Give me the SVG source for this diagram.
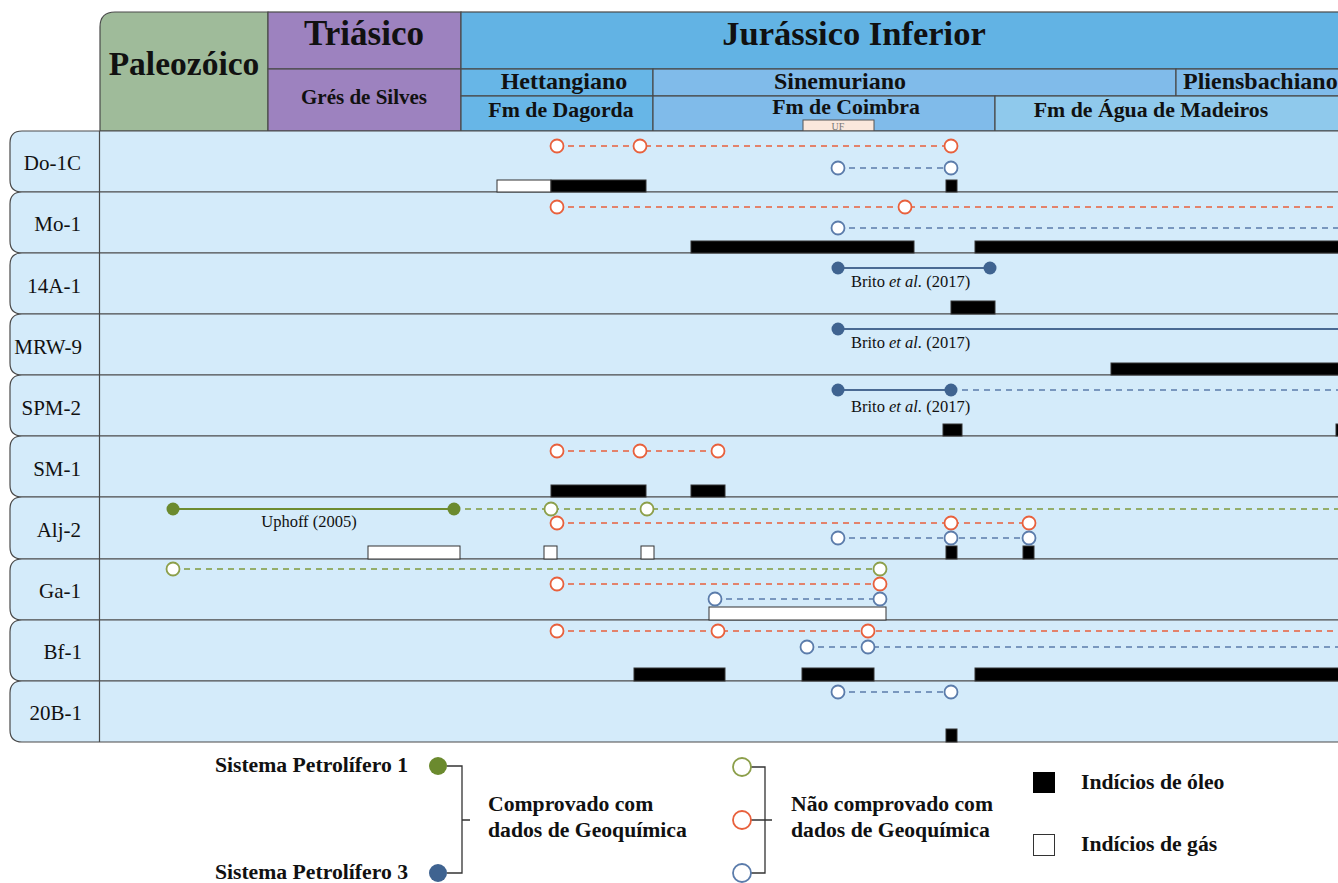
<svg xmlns="http://www.w3.org/2000/svg" width="1338" height="883" viewBox="0 0 1338 883">
<defs>
<style>
text{font-family:"Liberation Serif","Times New Roman",serif;fill:#111}
.hb{font-weight:bold}
.cell{stroke:#4a4a4a;stroke-width:1.2}
.row{fill:#d4ebfa;stroke:#4a4a4a;stroke-width:1.2}
.lbl{font-size:21px;text-anchor:end}
.ref{font-size:16.5px}
.oil{fill:#000;stroke:#333;stroke-width:1}
.gas{fill:#fff;stroke:#333;stroke-width:1}
.do{stroke:#e8603c;stroke-width:1.5;stroke-dasharray:6,5;fill:none}
.db{stroke:#5b7cab;stroke-width:1.5;stroke-dasharray:6,5;fill:none}
.dg{stroke:#7f9a3c;stroke-width:1.5;stroke-dasharray:6,5;fill:none}
.sb{stroke:#4a6a93;stroke-width:2;fill:none}
.sg{stroke:#6e8c30;stroke-width:2;fill:none}
.oo{fill:#fff;stroke:#e8603c;stroke-width:1.8}
.ob{fill:#fff;stroke:#5b7cab;stroke-width:1.8}
.og{fill:#fff;stroke:#8c9f4a;stroke-width:1.8}
.fb{fill:#3f6390}
.fg{fill:#6b8a2e}
.br{stroke:#333;stroke-width:1.3;fill:none}
.leg{font-size:21.7px;font-weight:bold}
</style>
</defs>

<g id="header">
<g id="paleozoico">
<path class="cell" d="M268 12 H115 Q100 12 100 27 V131 H268 Z" fill="#9fbb9a"/>
<text class="hb" x="184" y="75" font-size="33.5" text-anchor="middle">Paleozóico</text>
</g>
<g id="triasico">
<rect class="cell" x="268" y="12" width="193" height="57" fill="#9d82bf"/>
<rect class="cell" x="268" y="69" width="193" height="62" fill="#9d82bf"/>
<text class="hb" x="364" y="45" font-size="35" text-anchor="middle">Triásico</text>
<text class="hb" x="364" y="104" font-size="21" text-anchor="middle">Grés de Silves</text>
</g>
<g id="jurassico">
<rect class="cell" x="461" y="12" width="880" height="57" fill="#62b3e4"/>
<text class="hb" x="854" y="45" font-size="34.5" text-anchor="middle">Jurássico Inferior</text>
</g>
<g id="hettangiano">
<rect class="cell" x="461" y="69" width="192" height="27" fill="#67b6e7"/>
<text class="hb" x="564" y="89" font-size="24" text-anchor="middle">Hettangiano</text>
</g>
<g id="sinemuriano">
<rect class="cell" x="653" y="69" width="523" height="27" fill="#80bbea"/>
<text class="hb" x="840" y="89" font-size="24" text-anchor="middle">Sinemuriano</text>
</g>
<g id="pliensbachiano">
<rect class="cell" x="1176" y="69" width="165" height="27" fill="#80bbea"/>
<text class="hb" x="1183" y="89" font-size="24">Pliensbachiano</text>
</g>
<g id="dagorda">
<rect class="cell" x="461" y="96" width="192" height="35" fill="#67b6e7"/>
<text class="hb" x="561" y="117" font-size="21.8" text-anchor="middle">Fm de Dagorda</text>
</g>
<g id="coimbra">
<rect class="cell" x="653" y="96" width="342" height="35" fill="#80bbea"/>
<text class="hb" x="846" y="114" font-size="21.8" text-anchor="middle">Fm de Coimbra</text>
<rect x="803" y="120" width="71" height="11" fill="#fbe8dc" stroke="#555" stroke-width="1"/>
<text x="838" y="130" font-size="10" text-anchor="middle" style="fill:#777">UF</text>
</g>
<g id="agua">
<rect class="cell" x="995" y="96" width="346" height="35" fill="#8fc9ec"/>
<text class="hb" x="1151" y="117" font-size="21.8" text-anchor="middle">Fm de Água de Madeiros</text>
</g>
</g>

<g id="rows">
<g id="row-Do-1C"><path class="row" d="M1341 131 H22 Q10 131 10 143 V180 Q10 192 22 192 H1341 Z"/><text class="lbl" x="81" y="170">Do-1C</text></g>
<g id="row-Mo-1"><path class="row" d="M1341 192 H22 Q10 192 10 204 V241 Q10 253 22 253 H1341 Z"/><text class="lbl" x="81" y="231">Mo-1</text></g>
<g id="row-14A-1"><path class="row" d="M1341 253 H22 Q10 253 10 265 V302 Q10 314 22 314 H1341 Z"/><text class="lbl" x="81" y="293">14A-1</text></g>
<g id="row-MRW-9"><path class="row" d="M1341 314 H22 Q10 314 10 326 V363 Q10 375 22 375 H1341 Z"/><text class="lbl" x="82" y="354">MRW-9</text></g>
<g id="row-SPM-2"><path class="row" d="M1341 375 H22 Q10 375 10 387 V424 Q10 436 22 436 H1341 Z"/><text class="lbl" x="81" y="415">SPM-2</text></g>
<g id="row-SM-1"><path class="row" d="M1341 436 H22 Q10 436 10 448 V485 Q10 497 22 497 H1341 Z"/><text class="lbl" x="81" y="476">SM-1</text></g>
<g id="row-Alj-2"><path class="row" d="M1341 497 H22 Q10 497 10 509 V547 Q10 559 22 559 H1341 Z"/><text class="lbl" x="81" y="537">Alj-2</text></g>
<g id="row-Ga-1"><path class="row" d="M1341 559 H22 Q10 559 10 571 V608 Q10 620 22 620 H1341 Z"/><text class="lbl" x="81" y="598">Ga-1</text></g>
<g id="row-Bf-1"><path class="row" d="M1341 620 H22 Q10 620 10 632 V669 Q10 681 22 681 H1341 Z"/><text class="lbl" x="82" y="659">Bf-1</text></g>
<g id="row-20B-1"><path class="row" d="M1341 681 H22 Q10 681 10 693 V730 Q10 742 22 742 H1341 Z"/><text class="lbl" x="82" y="720">20B-1</text></g>
<line x1="99.5" y1="131" x2="99.5" y2="742" stroke="#4a4a4a" stroke-width="1.2"/>
</g>

<g id="shows">
<rect class="gas" x="497" y="180" width="54" height="12"/>
<rect class="oil" x="551" y="180" width="95" height="12"/>
<rect class="oil" x="946" y="180" width="11" height="12"/>
<rect class="oil" x="691" y="241" width="223" height="12"/>
<rect class="oil" x="975" y="241" width="366" height="12"/>
<rect class="oil" x="951" y="301" width="44" height="13"/>
<rect class="oil" x="1111" y="363" width="230" height="12"/>
<rect class="oil" x="943" y="424" width="19" height="12"/>
<rect class="oil" x="1336" y="424" width="5" height="12"/>
<rect class="oil" x="551" y="485" width="95" height="12"/>
<rect class="oil" x="691" y="485" width="34" height="12"/>
<rect class="gas" x="368" y="546" width="92" height="13"/>
<rect class="gas" x="544" y="546" width="13" height="13"/>
<rect class="gas" x="641" y="546" width="13" height="13"/>
<rect class="oil" x="946" y="546" width="11" height="13"/>
<rect class="oil" x="1023" y="546" width="11" height="13"/>
<rect class="gas" x="709" y="607" width="177" height="13"/>
<rect class="oil" x="634" y="668" width="91" height="13"/>
<rect class="oil" x="802" y="668" width="72" height="13"/>
<rect class="oil" x="975" y="668" width="366" height="13"/>
<rect class="oil" x="946" y="729" width="11" height="13"/>
</g>

<g id="connectors">
<line class="do" x1="557" y1="146" x2="951" y2="146"/>
<line class="db" x1="838" y1="168" x2="951" y2="168"/>
<line class="do" x1="557" y1="207" x2="1341" y2="207"/>
<line class="db" x1="838" y1="228" x2="1341" y2="228"/>
<line class="sb" x1="838" y1="268" x2="990" y2="268"/>
<line class="sb" x1="838" y1="329" x2="1341" y2="329"/>
<line class="sb" x1="838" y1="390" x2="951" y2="390"/>
<line class="db" x1="951" y1="390" x2="1341" y2="390"/>
<line class="do" x1="557" y1="451" x2="718" y2="451"/>
<line class="sg" x1="173" y1="509" x2="454" y2="509"/>
<line class="dg" x1="454" y1="509" x2="1341" y2="509"/>
<line class="do" x1="557" y1="523" x2="1029" y2="523"/>
<line class="db" x1="838" y1="538" x2="1029" y2="538"/>
<line class="dg" x1="173" y1="569" x2="880" y2="569"/>
<line class="do" x1="557" y1="584" x2="880" y2="584"/>
<line class="db" x1="715" y1="599" x2="880" y2="599"/>
<line class="do" x1="557" y1="631" x2="1341" y2="631"/>
<line class="db" x1="807" y1="647" x2="1341" y2="647"/>
<line class="db" x1="838" y1="692" x2="951" y2="692"/>
</g>

<g id="points">
<circle class="oo" cx="557" cy="146" r="6.5"/><circle class="oo" cx="640" cy="146" r="6.5"/><circle class="oo" cx="951" cy="146" r="6.5"/>
<circle class="ob" cx="838" cy="168" r="6.5"/><circle class="ob" cx="951" cy="168" r="6.5"/>
<circle class="oo" cx="557" cy="207" r="6.5"/><circle class="oo" cx="905" cy="207" r="6.5"/>
<circle class="ob" cx="838" cy="228" r="6.5"/>
<circle class="fb" cx="838" cy="268" r="6.5"/><circle class="fb" cx="990" cy="268" r="6.5"/>
<circle class="fb" cx="838" cy="329" r="6.5"/>
<circle class="fb" cx="838" cy="390" r="6.5"/><circle class="fb" cx="951" cy="390" r="6.5"/>
<circle class="oo" cx="557" cy="451" r="6.5"/><circle class="oo" cx="640" cy="451" r="6.5"/><circle class="oo" cx="718" cy="451" r="6.5"/>
<circle class="fg" cx="173" cy="509" r="6.5"/><circle class="fg" cx="454" cy="509" r="6.5"/>
<circle class="og" cx="551" cy="509" r="6.5"/><circle class="og" cx="647" cy="509" r="6.5"/>
<circle class="oo" cx="557" cy="523" r="6.5"/><circle class="oo" cx="951" cy="523" r="6.5"/><circle class="oo" cx="1029" cy="523" r="6.5"/>
<circle class="ob" cx="838" cy="538" r="6.5"/><circle class="ob" cx="951" cy="538" r="6.5"/><circle class="ob" cx="1029" cy="538" r="6.5"/>
<circle class="og" cx="173" cy="569" r="6.5"/><circle class="og" cx="880" cy="569" r="6.5"/>
<circle class="oo" cx="557" cy="584" r="6.5"/><circle class="oo" cx="880" cy="584" r="6.5"/>
<circle class="ob" cx="715" cy="599" r="6.5"/><circle class="ob" cx="880" cy="599" r="6.5"/>
<circle class="oo" cx="557" cy="631" r="6.5"/><circle class="oo" cx="718" cy="631" r="6.5"/><circle class="oo" cx="868" cy="631" r="6.5"/>
<circle class="ob" cx="807" cy="647" r="6.5"/><circle class="ob" cx="868" cy="647" r="6.5"/>
<circle class="ob" cx="838" cy="692" r="6.5"/><circle class="ob" cx="951" cy="692" r="6.5"/>
</g>

<g id="references">
<text class="ref" x="851" y="287">Brito <tspan font-style="italic">et al.</tspan> (2017)</text>
<text class="ref" x="851" y="348">Brito <tspan font-style="italic">et al.</tspan> (2017)</text>
<text class="ref" x="851" y="412">Brito <tspan font-style="italic">et al.</tspan> (2017)</text>
<text class="ref" x="309" y="527" text-anchor="middle">Uphoff (2005)</text>
</g>

<g id="legend">
<g id="legend-proven">
<text class="leg" x="408" y="772" text-anchor="end">Sistema Petrolífero 1</text>
<text class="leg" x="408" y="879" text-anchor="end">Sistema Petrolífero 3</text>
<circle class="fg" cx="438" cy="766" r="9"/>
<circle class="fb" cx="438" cy="873" r="9"/>
<path class="br" d="M447 766 H462 V873 H447 M462 820 H470"/>
<text class="leg" x="488" y="811">Comprovado com</text>
<text class="leg" x="488" y="837">dados de Geoquímica</text>
</g>
<g id="legend-unproven">
<path class="br" d="M751 767 H765 V873 H751 M751 820 H772"/>
<circle class="og" cx="742" cy="767" r="9"/>
<circle class="oo" cx="742" cy="820" r="9"/>
<circle class="ob" cx="742" cy="873" r="9"/>
<text class="leg" x="791" y="811">Não comprovado com</text>
<text class="leg" x="791" y="837">dados de Geoquímica</text>
</g>
<g id="legend-oil">
<rect x="1033" y="772" width="22" height="21" fill="#000"/>
<text class="leg" x="1081" y="789">Indícios de óleo</text>
</g>
<g id="legend-gas">
<rect x="1033.5" y="834.5" width="21" height="21" fill="#fff" stroke="#333" stroke-width="1"/>
<text class="leg" x="1081" y="851">Indícios de gás</text>
</g>
</g>
</svg>
